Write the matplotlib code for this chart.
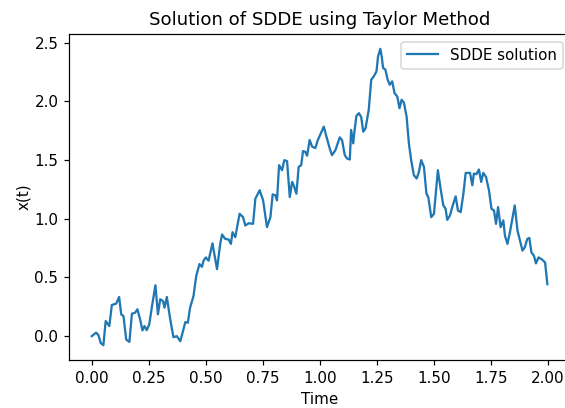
import numpy as np
import matplotlib
matplotlib.use("Agg")
import matplotlib.pyplot as plt

# values (time, x(t))
t = [0.000, 0.019, 0.029, 0.039, 0.051, 0.061, 0.077, 0.088, 0.107, 0.120,
     0.129, 0.139, 0.151, 0.165, 0.176, 0.190, 0.200, 0.212, 0.222, 0.231,
     0.241, 0.252, 0.263, 0.279, 0.290, 0.300, 0.312, 0.319, 0.329, 0.344,
     0.358, 0.373, 0.388, 0.400, 0.410, 0.421, 0.431, 0.446, 0.458, 0.472,
     0.483, 0.490, 0.500, 0.512, 0.529, 0.549, 0.563, 0.571, 0.585, 0.600,
     0.610, 0.617, 0.629, 0.648, 0.663, 0.673, 0.688, 0.707, 0.717, 0.736,
     0.751, 0.768, 0.783, 0.793, 0.805, 0.812, 0.821, 0.834, 0.844, 0.856,
     0.868, 0.878, 0.885, 0.897, 0.907, 0.918, 0.926, 0.936, 0.944, 0.955,
     0.966, 0.980, 0.991, 1.002, 1.017, 1.028, 1.043, 1.053, 1.068, 1.078,
     1.087, 1.097, 1.109, 1.119, 1.131, 1.137, 1.146, 1.153, 1.160, 1.171,
     1.181, 1.190, 1.200, 1.214, 1.225, 1.236, 1.248, 1.255, 1.265, 1.271,
     1.277, 1.287, 1.297, 1.306, 1.317, 1.327, 1.339, 1.349, 1.358, 1.368,
     1.380, 1.390, 1.400, 1.412, 1.424, 1.434, 1.444, 1.456, 1.467, 1.475,
     1.488, 1.500, 1.509, 1.517, 1.529, 1.541, 1.551, 1.558, 1.570, 1.580,
     1.595, 1.605, 1.617, 1.629, 1.639, 1.658, 1.668, 1.675, 1.686, 1.697,
     1.707, 1.716, 1.728, 1.741, 1.752, 1.763, 1.772, 1.781, 1.792, 1.804,
     1.811, 1.822, 1.833, 1.845, 1.854, 1.866, 1.877, 1.888, 1.898, 1.909,
     1.918, 1.927, 1.938, 1.947, 1.958, 1.971, 1.987, 1.997]
x = [0.000, 0.030, 0.010, -0.057, -0.077, 0.129, 0.086, 0.266, 0.277, 0.334,
     0.186, 0.171, -0.029, -0.049, 0.191, 0.200, 0.229, 0.143, 0.049, 0.086,
     0.051, 0.100, 0.243, 0.434, 0.186, 0.314, 0.300, 0.243, 0.334, 0.143,
     -0.009, 0.000, -0.043, 0.043, 0.120, 0.114, 0.243, 0.343, 0.514, 0.614,
     0.591, 0.643, 0.671, 0.643, 0.791, 0.571, 0.786, 0.866, 0.829, 0.823,
     0.786, 0.886, 0.843, 1.043, 1.014, 0.943, 0.962, 0.957, 1.171, 1.243,
     1.157, 0.929, 1.014, 1.208, 1.200, 1.157, 1.457, 1.414, 1.500, 1.491,
     1.185, 1.314, 1.286, 1.214, 1.443, 1.457, 1.577, 1.571, 1.537, 1.671,
     1.614, 1.603, 1.671, 1.720, 1.785, 1.705, 1.600, 1.542, 1.585, 1.643,
     1.694, 1.671, 1.542, 1.514, 1.505, 1.757, 1.643, 1.771, 1.877, 1.900,
     1.866, 1.742, 1.771, 1.928, 2.185, 2.213, 2.256, 2.385, 2.448, 2.380,
     2.285, 2.271, 2.185, 2.142, 2.171, 2.071, 2.042, 1.942, 2.014, 1.991,
     1.871, 1.643, 1.500, 1.371, 1.343, 1.400, 1.500, 1.442, 1.214, 1.185,
     1.014, 1.043, 1.243, 1.414, 1.257, 1.114, 1.086, 0.991, 1.028, 1.100,
     1.191, 1.071, 1.057, 1.214, 1.391, 1.391, 1.286, 1.386, 1.380, 1.420,
     1.314, 1.391, 1.357, 1.243, 1.086, 1.071, 0.957, 1.100, 0.929, 0.986,
     0.857, 0.786, 0.886, 1.014, 1.114, 0.900, 0.814, 0.729, 0.757, 0.829,
     0.837, 0.714, 0.686, 0.620, 0.671, 0.657, 0.628, 0.443]

dpi = 109
fig = plt.figure(figsize=(565 / dpi, 408 / dpi), dpi=dpi)
ax = fig.add_axes([0.1221, 0.1176, 0.887, 0.799])
ax.plot(t, x, label="SDDE solution")
ax.set_title("Solution of SDDE using Taylor Method")
ax.set_xlabel("Time")
ax.set_ylabel("x(t)", labelpad=2)
ax.legend(loc="upper right")
fig.savefig("out.png", dpi=dpi)
